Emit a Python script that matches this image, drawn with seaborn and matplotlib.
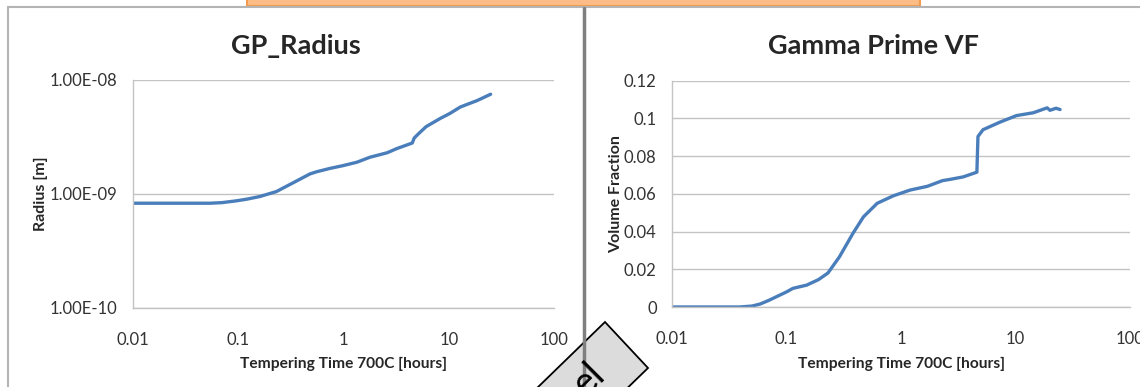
import matplotlib
matplotlib.use("Agg")
import matplotlib.pyplot as plt
import seaborn as sns
import pandas as pd
from matplotlib.patches import Rectangle, Polygon
from matplotlib.lines import Line2D
from matplotlib.ticker import FuncFormatter, NullLocator

# datos
radius_time = [0.01, 0.02, 0.03, 0.054, 0.07, 0.095, 0.12, 0.16, 0.23, 0.33, 0.48, 0.56,
               0.75, 0.98, 1.34, 1.78, 2.6, 3.2, 4.5, 4.7, 5.2, 6.1, 8.3, 10.3, 12.9, 18.6, 25]
radius_m = [8.3e-10, 8.3e-10, 8.3e-10, 8.3e-10, 8.4e-10, 8.7e-10, 9.0e-10, 9.5e-10, 1.05e-9,
            1.25e-9, 1.5e-9, 1.57e-9, 1.68e-9, 1.77e-9, 1.9e-9, 2.1e-9, 2.3e-9, 2.5e-9, 2.8e-9,
            3.1e-9, 3.4e-9, 3.9e-9, 4.6e-9, 5.1e-9, 5.8e-9, 6.6e-9, 7.5e-9]

vf_time = [0.01, 0.02, 0.039, 0.05, 0.059, 0.07, 0.082, 0.1, 0.114, 0.15, 0.19, 0.23, 0.29,
           0.38, 0.47, 0.62, 0.86, 1.2, 1.7, 2.3, 2.7, 3.5, 4.6, 4.7, 5.2, 7.3, 10.2, 14.3,
           18.9, 20, 22.6, 24.5]
vf = [0, 0, 0, 0.0005, 0.0016, 0.0035, 0.0055, 0.008, 0.0099, 0.0116, 0.0145, 0.018, 0.0266,
      0.039, 0.0478, 0.055, 0.059, 0.062, 0.064, 0.067, 0.0677, 0.069, 0.0715, 0.0904, 0.094,
      0.098, 0.1015, 0.103, 0.1056, 0.1043, 0.1054, 0.1047]

x_ticks = [0.01, 0.1, 1, 10, 100]
radius_ticks = [1e-10, 1e-9, 1e-8]
vf_ticks = [0, 0.02, 0.04, 0.06, 0.08, 0.1, 0.12]

W, H = 1140, 387
LINE = "#4a7ebb"
GRID = "#c3c3c3"

sns.set_style("white")
plt.rcParams["font.family"] = ["Lato", "DejaVu Sans"]

fig = plt.figure(figsize=(W / 100, H / 100), dpi=100)


def caja(x0, y0, x1, y1):
    return [x0 / W, 1 - y1 / H, (x1 - x0) / W, (y1 - y0) / H]


def fx(x):
    return x / W


def fy(y):
    return 1 - y / H


ax1 = fig.add_axes(caja(133, 80, 554, 308))
ax2 = fig.add_axes(caja(672, 80.7, 1130, 307))

df_r = pd.DataFrame({"t": radius_time, "r": radius_m})
df_v = pd.DataFrame({"t": vf_time, "v": vf})

for ax in (ax1, ax2):
    ax.set_xscale("log")

ax1.set_yscale("log")
sns.lineplot(data=df_r, x="t", y="r", ax=ax1, color=LINE, linewidth=2.4)
sns.lineplot(data=df_v, x="t", y="v", ax=ax2, color=LINE, linewidth=2.4)

ax1.set_ylim(1e-10, 1e-8)
ax1.set_yticks(radius_ticks)
ax1.yaxis.set_major_formatter(FuncFormatter(lambda v, p: f"{v:.2E}"))
ax2.set_ylim(0, 0.12)
ax2.set_yticks(vf_ticks)
ax2.yaxis.set_major_formatter(FuncFormatter(lambda v, p: f"{v:g}"))

for ax in (ax1, ax2):
    ax.set_xlim(0.01, 100)
    ax.set_xticks(x_ticks)
    ax.xaxis.set_major_formatter(FuncFormatter(lambda v, p: f"{v:g}"))
    ax.xaxis.set_minor_locator(NullLocator())
    ax.yaxis.set_minor_locator(NullLocator())
    ax.yaxis.grid(True, color=GRID, linewidth=1)
    ax.xaxis.grid(False)
    for s in ("top", "right"):
        ax.spines[s].set_visible(False)
    for s in ("left", "bottom"):
        ax.spines[s].set_color(GRID)
        ax.spines[s].set_linewidth(1)
    ax.tick_params(axis="both", direction="out", length=5, width=1, color=GRID,
                   labelsize=12, labelcolor="#333333")
    ax.tick_params(axis="x", pad=12)
    ax.tick_params(axis="y", pad=6)
    ax.set_xlabel("Tempering Time 700C [hours]", fontsize=11.2, fontweight="bold")

ax1.set_ylabel("Radius [m]", fontsize=11.5, fontweight="bold")
ax2.set_ylabel("Volume Fraction", fontsize=11.5, fontweight="bold")
ax1.yaxis.set_label_coords(-0.202, 0.5)
ax2.yaxis.set_label_coords(-0.107, 0.5)
ax1.xaxis.set_label_coords(0.5, -0.216)
ax2.xaxis.set_label_coords(0.5, -0.222)

fig.text(fx(296), fy(46), "GP_Radius", ha="center", va="center", fontsize=19.5, fontweight="bold")
fig.text(fx(873), fy(46), "Gamma Prime VF", ha="center", va="center", fontsize=19.5, fontweight="bold")

# marcos de la captura
fig.add_artist(Line2D([fx(8), fx(8)], [fy(7), fy(390)], color="#b4b4b4", lw=1.5))
fig.add_artist(Line2D([fx(8), fx(1140)], [fy(7), fy(7)], color="#b4b4b4", lw=1.5))
fig.add_artist(Line2D([fx(584), fx(584)], [fy(8), fy(390)], color="#7f7f7f", lw=2.5))
fig.add_artist(Rectangle((fx(247), fy(6)), fx(920) - fx(247), fy(-10) - fy(6),
                         facecolor="#fbbd85", edgecolor="#f29a4e", lw=1.5))

# rombo inferior
rombo = [(605, 322), (648, 368), (578, 436), (535, 390)]
fig.add_artist(Polygon([(fx(a), fy(b)) for a, b in rombo], closed=True,
                       facecolor="#dcdcdc", edgecolor="black", lw=1.3))
fig.text(fx(607), fy(377), "el", rotation=45, rotation_mode="anchor", ha="right",
         va="baseline", fontsize=27, color="black")

fig.savefig("out.png", dpi=100)
